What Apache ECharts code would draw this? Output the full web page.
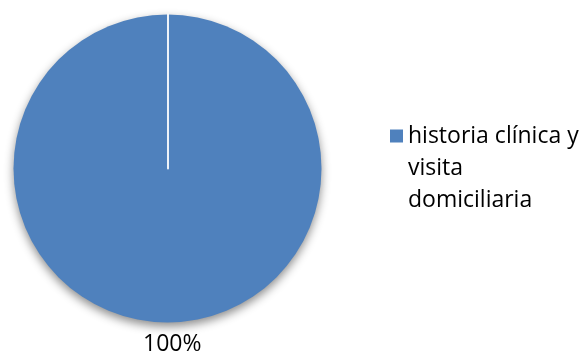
<!DOCTYPE html>
<html>
<head>
<meta charset="utf-8">
<script src="https://cdn.jsdelivr.net/npm/echarts@6/dist/echarts.min.js"></script>
<style>html,body{margin:0;padding:0;background:#fff}#c{width:587px;height:353px}</style>
</head>
<body>
<div id="c"></div>
<script>
var categories = ['historia clínica y visita domiciliaria'];
var values = [100];
var legendLines = { 'historia clínica y visita domiciliaria': 'historia clínica y\nvisita\ndomiciliaria' };

var chart = echarts.init(document.getElementById('c'), null, { renderer: 'canvas' });
var center = [167.5, 168.5];
var radius = 154;
var fontFamily = 'Open Sans';
var fontSize = 23;
chart.setOption({
  animation: false,
  backgroundColor: '#ffffff',
  color: ['#4F81BD'],
  legend: {
    orient: 'vertical',
    left: 390,
    top: 56,
    padding: 0,
    itemWidth: 13,
    itemHeight: 13,
    icon: 'rect',
    data: categories,
    // two leading empty lines keep the marker level with the first text line
    formatter: function (n) { return '\n\n' + (legendLines[n] || n); },
    textStyle: { fontFamily: fontFamily, fontSize: fontSize, color: '#000', lineHeight: 32 }
  },
  polar: { center: center, radius: radius },
  angleAxis: { show: false, startAngle: 90, type: 'value', min: 0, max: 1 },
  radiusAxis: {
    type: 'value', min: 0, max: 1, z: 10,
    axisLine: { show: true, lineStyle: { color: '#ffffff', width: 1.8 } },
    axisTick: { show: false }, axisLabel: { show: false }, splitLine: { show: false }
  },
  series: [{
    type: 'pie',
    center: center,
    radius: radius,
    startAngle: 90,
    clockwise: true,
    data: categories.map(function (c, i) { return { name: c, value: values[i] }; }),
    itemStyle: { shadowBlur: 10, shadowOffsetY: 4, shadowColor: 'rgba(0,0,0,0.45)' },
    label: { show: true, position: 'outside', formatter: '{d}%', fontFamily: fontFamily, fontSize: fontSize, color: '#000', distanceToLabelLine: -34 },
    labelLine: { show: false, length: 22, length2: 0 },
    emphasis: { disabled: true }
  }]
});
</script>
</body>
</html>
